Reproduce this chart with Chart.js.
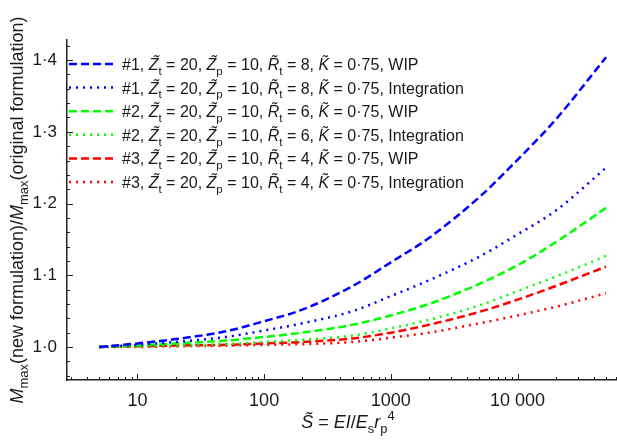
<!DOCTYPE html>
<html>
<head>
<meta charset="utf-8">
<script src="https://cdn.jsdelivr.net/npm/chart.js@4.4.1/dist/chart.umd.min.js"></script>
<style>
  html, body { margin: 0; padding: 0; background: #fff; }
  #wrap { width: 617px; height: 443px; }
</style>
</head>
<body>
<div id="wrap"><canvas id="chart" width="617" height="443"></canvas></div>
<script>
// Stiffness values S~ (x axis, log scale)
const stiffness = [5, 10, 20, 50, 100, 200, 500, 1000, 2000, 5000, 10000, 20000, 50000];

// Mmax(new) / Mmax(original)
const case1Wip   = [1.000, 1.005, 1.011, 1.022, 1.036, 1.052, 1.085, 1.118, 1.152, 1.209, 1.261, 1.317, 1.404];
const case1Integ = [1.000, 1.003, 1.007, 1.014, 1.023, 1.033, 1.050, 1.071, 1.093, 1.126, 1.157, 1.190, 1.250];
const case2Wip   = [1.000, 1.002, 1.005, 1.009, 1.014, 1.020, 1.031, 1.044, 1.060, 1.088, 1.114, 1.146, 1.194];
const case2Integ = [1.000, 1.001, 1.002, 1.004, 1.007, 1.010, 1.016, 1.026, 1.038, 1.058, 1.078, 1.098, 1.127];
const case3Wip   = [1.000, 1.001, 1.002, 1.003, 1.005, 1.007, 1.012, 1.020, 1.031, 1.049, 1.066, 1.085, 1.112];
const case3Integ = [1.000, 1.000, 1.001, 1.002, 1.003, 1.004, 1.007, 1.013, 1.020, 1.033, 1.044, 1.056, 1.075];

// legend bits
const caseIds  = ['#1', '#1', '#2', '#2', '#3', '#3'];
const rTilde   = [8, 8, 6, 6, 4, 4];
const methods  = ['WIP', 'Integration', 'WIP', 'Integration', 'WIP', 'Integration'];
const xTickLabels = { 10: '10', 100: '100', 1000: '1000', 10000: '10 000' };

const FONT = '"Liberation Sans", Arial, sans-serif';
const BLUE = '#0000ff', GREEN = '#00ff00', RED = '#ff0000';
const DASH = [8, 4], DOT = [2, 5];

const seriesList = [
    { data: case1Wip,   color: BLUE,  dash: DASH },
    { data: case1Integ, color: BLUE,  dash: DOT },
    { data: case2Wip,   color: GREEN, dash: DASH },
    { data: case2Integ, color: GREEN, dash: DOT },
    { data: case3Wip,   color: RED,   dash: DASH },
    { data: case3Integ, color: RED,   dash: DOT }
];

// draw text made of parts (italic / subscript / superscript)
function richWidth(ctx, parts, size) {
    let w = 0;
    parts.forEach(p => {
        const s = (p.sub || p.sup) ? size * 0.72 : size;
        ctx.font = (p.it ? 'italic ' : '') + s + 'px ' + FONT;
        w += ctx.measureText(p.t).width;
    });
    return w;
}

function drawRich(ctx, parts, x, y, size) {
    parts.forEach(p => {
        const s = (p.sub || p.sup) ? size * 0.72 : size;
        ctx.font = (p.it ? 'italic ' : '') + s + 'px ' + FONT;
        const dy = p.sub ? size * 0.3 : (p.sup ? -size * 0.42 : 0);
        ctx.fillText(p.t, x, y + dy);
        x += ctx.measureText(p.t).width;
    });
    return x;
}

function legendParts(i) {
    return [
        { t: caseIds[i] + ', ' },
        { t: 'Z\u0303', it: 1 }, { t: 't', sub: 1 }, { t: ' = 20, ' },
        { t: 'Z\u0303', it: 1 }, { t: 'p', sub: 1 }, { t: ' = 10, ' },
        { t: 'R\u0303', it: 1 }, { t: 't', sub: 1 }, { t: ' = ' + rTilde[i] + ', ' },
        { t: 'K\u0303', it: 1 }, { t: ' = 0\u00b775, ' + methods[i] }
    ];
}

const decorPlugin = {
    id: 'decor',
    afterDraw(chart) {
        const ctx = chart.ctx;
        const xs = chart.scales.x, ys = chart.scales.y;
        const area = chart.chartArea;
        ctx.save();

        // inward tick marks
        ctx.strokeStyle = '#222';
        ctx.lineWidth = 1;
        ctx.beginPath();
        for (let k = Math.ceil(ys.min * 50); k <= Math.floor(ys.max * 50); k++) {
            const py = Math.round(ys.getPixelForValue(k / 50)) + 0.5;
            const len = (k % 5 === 0) ? 6 : 3;
            ctx.moveTo(area.left, py);
            ctx.lineTo(area.left + len, py);
        }
        for (let d = 0; d <= 4; d++) {
            for (let m = 1; m <= 9; m++) {
                const v = m * Math.pow(10, d);
                if (v < xs.min || v > xs.max) continue;
                const px = Math.round(xs.getPixelForValue(v)) + 0.5;
                const len = (m === 1) ? 6 : 3;
                ctx.moveTo(px, area.bottom);
                ctx.lineTo(px, area.bottom - len);
            }
        }
        ctx.stroke();

        // legend
        ctx.fillStyle = '#1a1a1a';
        ctx.textBaseline = 'alphabetic';
        seriesList.forEach((s, i) => {
            const rowY = 64 + i * 23.6;
            ctx.strokeStyle = s.color;
            ctx.lineWidth = 2.5;
            ctx.setLineDash(s.dash);
            ctx.beginPath();
            ctx.moveTo(69, rowY);
            ctx.lineTo(115, rowY);
            ctx.stroke();
            ctx.setLineDash([]);
            drawRich(ctx, legendParts(i), 122, rowY + 6, 16);
        });

        // y axis title (rotated)
        const yTitle = [
            { t: 'M', it: 1 }, { t: 'max', sub: 1 }, { t: '(new formulation)/' },
            { t: 'M', it: 1 }, { t: 'max', sub: 1 }, { t: '(original formulation)' }
        ];
        const yw = richWidth(ctx, yTitle, 18);
        ctx.save();
        ctx.translate(23, 210);
        ctx.rotate(-Math.PI / 2);
        drawRich(ctx, yTitle, -yw / 2, 0, 18);
        ctx.restore();

        // x axis title
        const xTitle = [
            { t: 'S\u0303', it: 1 }, { t: ' = ' }, { t: 'EI', it: 1 }, { t: '/' },
            { t: 'E', it: 1 }, { t: 's', sub: 1 }, { t: 'r', it: 1 }, { t: 'p', sub: 1 }, { t: '4', sup: 1 }
        ];
        const xw = richWidth(ctx, xTitle, 18);
        drawRich(ctx, xTitle, 348 - xw / 2, 428, 18);
        ctx.restore();
    }
};

new Chart(document.getElementById('chart'), {
    type: 'line',
    data: {
        datasets: seriesList.map(s => ({
            data: stiffness.map((x, i) => ({ x: x, y: s.data[i] })),
            borderColor: s.color,
            borderDash: s.dash,
            borderWidth: 2.5,
            pointRadius: 0,
            fill: false,
            cubicInterpolationMode: 'monotone'
        }))
    },
    options: {
        responsive: false,
        devicePixelRatio: 1,
        animation: false,
        layout: { padding: { top: 40, right: 0, left: 0, bottom: 0 } },
        plugins: { legend: { display: false }, tooltip: { enabled: false } },
        scales: {
            x: {
                type: 'logarithmic',
                min: 2.78,
                max: 61000,
                grid: { display: false, drawTicks: false },
                border: { display: true, color: '#222', width: 1.5 },
                ticks: {
                    autoSkip: false,
                    maxRotation: 0,
                    padding: 10,
                    color: '#1a1a1a',
                    font: { family: FONT, size: 18 },
                    callback: v => xTickLabels[Math.round(v)] || ''
                },
                afterFit(scale) {
                    scale.height = 63;
                    scale.paddingLeft = 0;
                    scale.paddingRight = 0;
                }
            },
            y: {
                min: 0.954,
                max: 1.428,
                grid: { display: false, drawTicks: false },
                border: { display: true, color: '#222', width: 1.5 },
                ticks: {
                    stepSize: 0.02,
                    autoSkip: false,
                    padding: 10,
                    color: '#1a1a1a',
                    font: { family: FONT, size: 17 },
                    callback: v => {
                        const t = Math.round(v * 100);
                        return (t % 10 === 0) ? (t / 100).toFixed(1).replace('.', '\u00b7') : '';
                    }
                },
                afterFit(scale) {
                    scale.width = 67;
                    scale.paddingTop = 0;
                    scale.paddingBottom = 0;
                }
            }
        }
    },
    plugins: [decorPlugin]
});
</script>
</body>
</html>
